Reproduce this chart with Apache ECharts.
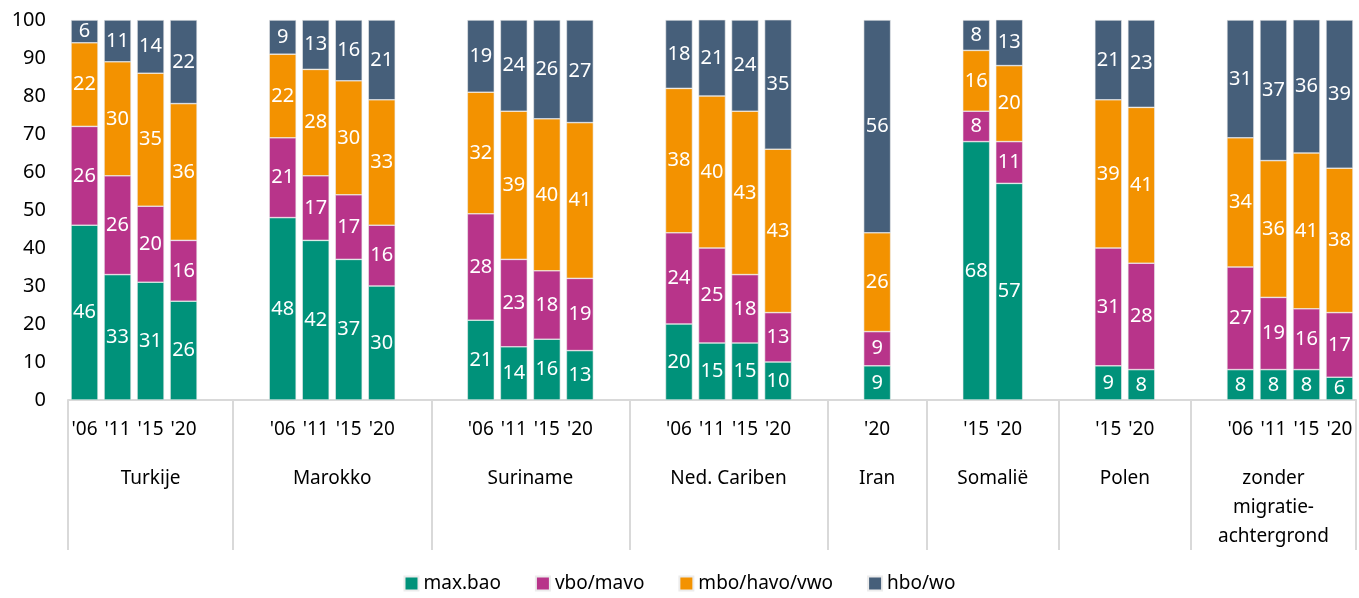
<!DOCTYPE html>
<html>
<head>
<meta charset="utf-8">
<script src="https://cdn.jsdelivr.net/npm/echarts@6/dist/echarts.min.js"></script>
<style>
  html, body { margin: 0; padding: 0; background: #fff; }
  #chart-container { width: 1359px; height: 598px; }
</style>
</head>
<body>
<div id="chart-container"></div>
<script>
// one slot per bar, empty slots keep the gaps between the groups
const yearLabels = [
  "'06", "'11", "'15", "'20", '',        // Turkije
  '', "'06", "'11", "'15", "'20", '',    // Marokko
  '', "'06", "'11", "'15", "'20", '',    // Suriname
  '', "'06", "'11", "'15", "'20", '',    // Ned. Cariben
  '', "'20", '',                         // Iran
  '', "'15", "'20", '',                  // Somalië
  '', "'15", "'20", '',                  // Polen
  '', "'06", "'11", "'15", "'20"         // zonder migratieachtergrond
];
const groupNames = ['Turkije', 'Marokko', 'Suriname', 'Ned. Cariben', 'Iran', 'Somalië', 'Polen', 'zonder\nmigratie-\nachtergrond'];
const groupEdges = [0, 5, 11, 17, 23, 26, 30, 34, 39];

const maxBao = [46, 33, 31, 26, null, null, 48, 42, 37, 30, null, null, 21, 14, 16, 13, null, null, 20, 15, 15, 10, null, null, 9, null, null, 68, 57, null, null, 9, 8, null, null, 8, 8, 8, 6];
const vboMavo = [26, 26, 20, 16, null, null, 21, 17, 17, 16, null, null, 28, 23, 18, 19, null, null, 24, 25, 18, 13, null, null, 9, null, null, 8, 11, null, null, 31, 28, null, null, 27, 19, 16, 17];
const mboHavoVwo = [22, 30, 35, 36, null, null, 22, 28, 30, 33, null, null, 32, 39, 40, 41, null, null, 38, 40, 43, 43, null, null, 26, null, null, 16, 20, null, null, 39, 41, null, null, 34, 36, 41, 38];
const hboWo = [6, 11, 14, 22, null, null, 9, 13, 16, 21, null, null, 19, 24, 26, 27, null, null, 18, 21, 24, 35, null, null, 56, null, null, 8, 13, null, null, 21, 23, null, null, 31, 37, 36, 39];

const seriesNames = ['max.bao', 'vbo/mavo', 'mbo/havo/vwo', 'hbo/wo'];
const colors = ['#00927a', '#b8348a', '#f39200', '#465f7a'];

// centre of every group, in slot units
const groupCenters = groupNames.map(function (n, i) {
  return (groupEdges[i] + groupEdges[i + 1]) / 2;
});

const font = 'Noto Sans';

var dom = document.getElementById('chart-container');
var myChart = echarts.init(dom, null, { renderer: 'canvas' });

function makeSeries(name, values, i) {
  return {
    name: name,
    type: 'bar',
    stack: 'total',
    barWidth: 27,
    data: values.map(function (v) { return v === null ? '-' : v; }),
    itemStyle: { color: colors[i], borderColor: '#ececec', borderWidth: 0.6 },
    label: {
      show: true,
      position: 'inside',
      color: '#fff',
      fontFamily: font,
      fontSize: 20
    }
  };
}

var option = {
  animation: false,
  textStyle: { fontFamily: font },
  color: colors,
  grid: { left: 68, right: 3, top: 20, bottom: 198 },
  legend: {
    bottom: 0,
    left: 'center',
    icon: 'rect',
    itemWidth: 14,
    itemHeight: 14,
    itemGap: 34,
    textStyle: { fontFamily: font, fontSize: 19, color: '#000' },
    data: seriesNames
  },
  xAxis: [
    {
      type: 'category',
      data: yearLabels,
      axisLine: { show: false },
      axisTick: { show: false },
      axisLabel: {
        interval: 0,
        margin: 20,
        fontFamily: font,
        fontSize: 19,
        color: '#000'
      }
    },
    {
      type: 'value',
      min: 0,
      max: 39,
      position: 'bottom',
      splitLine: { show: false },
      axisLine: { show: true, lineStyle: { color: '#d9d9d9', width: 2 } },
      axisTick: {
        show: true,
        length: 150,
        customValues: groupEdges,
        lineStyle: { color: '#d9d9d9', width: 2 }
      },
      axisLabel: {
        customValues: groupCenters,
        margin: 64,
        fontFamily: font,
        fontSize: 19,
        lineHeight: 29,
        verticalAlign: 'top',
        color: '#000',
        formatter: function (v) {
          var i = groupCenters.indexOf(v);
          return i >= 0 ? groupNames[i] : '';
        }
      }
    }
  ],
  yAxis: {
    type: 'value',
    min: 0,
    max: 100,
    interval: 10,
    splitLine: { show: false },
    axisLine: { show: false },
    axisTick: { show: false },
    axisLabel: { margin: 22, fontFamily: font, fontSize: 20, color: '#000' }
  },
  series: [
    makeSeries(seriesNames[0], maxBao, 0),
    makeSeries(seriesNames[1], vboMavo, 1),
    makeSeries(seriesNames[2], mboHavoVwo, 2),
    makeSeries(seriesNames[3], hboWo, 3)
  ]
};

myChart.setOption(option);
</script>
</body>
</html>
